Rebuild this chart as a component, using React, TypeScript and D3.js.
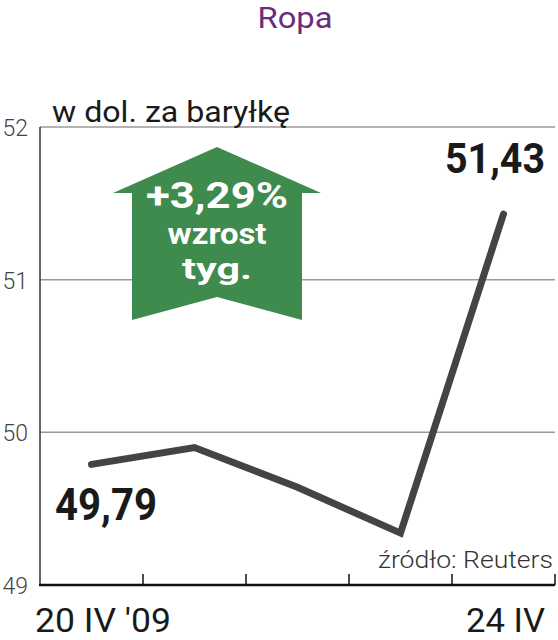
import React from "react";
import * as d3 from "d3";

const categories = ["20 IV", "21 IV", "22 IV", "23 IV", "24 IV"];
const values = [49.79, 49.9, 49.64, 49.34, 51.43];
const yTicks = [49, 50, 51, 52];
const xTickLabels = ["20 IV '09", "24 IV"];
const title = "Ropa";
const unitLabel = "w dol. za baryłkę";
const sourceLabel = "źródło: Reuters";
const firstValueLabel = "49,79";
const lastValueLabel = "51,43";
const changeLines = ["+3,29%", "wzrost", "tyg."];

const W = 558;
const H = 640;
const left = 40;
const right = 555;
const top = 127;
const bottom = 585;
const FONT = "Roboto, 'DejaVu Sans', sans-serif";

export default function App() {
  const x = d3.scaleBand<string>().domain(categories).range([left, right]).padding(0);
  const y = d3.scaleLinear().domain([49, 52]).range([bottom, top]);
  const cx = (c: string) => (x(c) ?? 0) + x.bandwidth() / 2;
  const line = d3
    .line<number>()
    .x((_, i) => cx(categories[i]))
    .y((d) => y(d));

  const tickXs = categories.map((c) => (x(c) ?? 0) + x.bandwidth());

  // arrow geometry
  const ac = 217;
  const arrow = [
    [ac, 147],
    [ac + 104, 193],
    [ac + 85, 193],
    [ac + 85, 320],
    [ac, 297],
    [ac - 85, 320],
    [ac - 85, 193],
    [ac - 104, 193],
  ];

  return (
    <svg
      width={W}
      height={H}
      style={{ position: "absolute", left: 0, top: 0, background: "#fff" }}
      fontFamily={FONT}
    >
      <text x={295} y={28} textAnchor="middle" fontSize={30} fontWeight={400} fill="#6b2c7c" textLength={75} lengthAdjust="spacingAndGlyphs">
        {title}
      </text>

      {/* gridlines */}
      {yTicks
        .filter((t) => t !== 49)
        .map((t) => (
          <line key={t} x1={left} x2={right} y1={y(t)} y2={y(t)} stroke="#9a9a9a" strokeWidth={1.5} />
        ))}
      {/* y labels */}
      {yTicks.map((t) => (
        <text
          key={"l" + t}
          x={28}
          y={y(t) + 1.5}
          textAnchor="end"
          dominantBaseline="central"
          fontSize={23}
          fontWeight={300}
          fill="#444"
        >
          {t}
        </text>
      ))}

      <text x={52} y={122} fontSize={30} fill="#1a1a1a" textLength={238} lengthAdjust="spacingAndGlyphs">
        {unitLabel}
      </text>

      {/* y axis */}
      <line x1={left} x2={left} y1={top} y2={bottom} stroke="#333" strokeWidth={1.5} />

      {/* arrow */}
      <polygon points={arrow.map((p) => p.join(",")).join(" ")} fill="#3f8a4d" />
      <text x={ac} y={208} textAnchor="middle" fontSize={36} fontWeight={700} fill="#fff" textLength={142} lengthAdjust="spacingAndGlyphs">
        {changeLines[0]}
      </text>
      <text x={ac} y={244} textAnchor="middle" fontSize={30} fontWeight={700} fill="#fff" textLength={99} lengthAdjust="spacingAndGlyphs">
        {changeLines[1]}
      </text>
      <text x={ac} y={279} textAnchor="middle" fontSize={30} fontWeight={700} fill="#fff" textLength={70} lengthAdjust="spacingAndGlyphs">
        {changeLines[2]}
      </text>

      {/* source */}
      <text x={553} y={568} textAnchor="end" fontSize={23} fontWeight={300} fill="#333" textLength={175} lengthAdjust="spacingAndGlyphs">
        {sourceLabel}
      </text>

      {/* data line */}
      <path
        d={line(values) ?? ""}
        fill="none"
        stroke="#444"
        strokeWidth={7}
        strokeLinecap="round"
        strokeLinejoin="miter"
      />

      {/* value labels */}
      <text x={55} y={520} fontSize={45} fontWeight={700} fill="#1a1a1a" textLength={102} lengthAdjust="spacingAndGlyphs">
        {firstValueLabel}
      </text>
      <text x={445} y={173} fontSize={43} fontWeight={700} fill="#1a1a1a" textLength={100} lengthAdjust="spacingAndGlyphs">
        {lastValueLabel}
      </text>

      {/* x axis */}
      <line x1={left - 1} x2={right} y1={bottom} y2={bottom} stroke="#111" strokeWidth={2.5} />
      {tickXs.map((tx, i) => (
        <line key={"t" + i} x1={tx} x2={tx} y1={bottom} y2={bottom - 11} stroke="#111" strokeWidth={1.5} />
      ))}
      <text x={35} y={632} fontSize={34} fill="#1a1a1a" textLength={136} lengthAdjust="spacingAndGlyphs">
        {xTickLabels[0]}
      </text>
      <text x={545} y={632} textAnchor="end" fontSize={34} fill="#1a1a1a" textLength={79} lengthAdjust="spacingAndGlyphs">
        {xTickLabels[1]}
      </text>
    </svg>
  );
}
